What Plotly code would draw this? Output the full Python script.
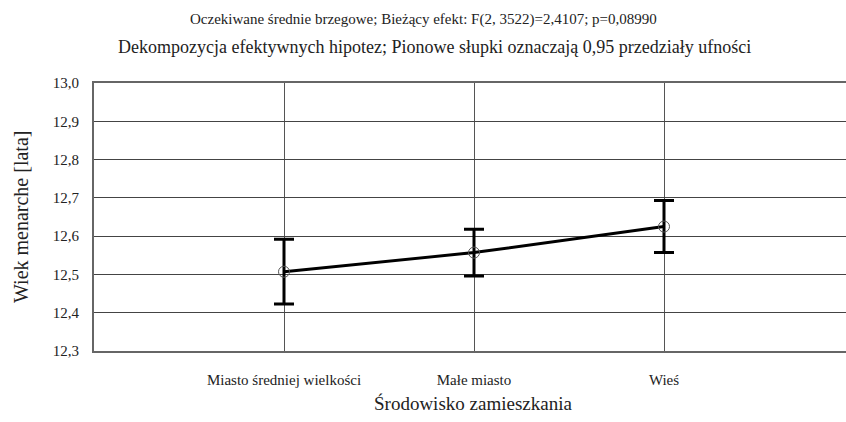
import plotly.graph_objects as go

categories = ["Miasto średniej wielkości", "Małe miasto", "Wieś"]
means = [12.507, 12.557, 12.625]
upper = [12.592, 12.618, 12.693]
lower = [12.423, 12.496, 12.557]
y_ticks = [12.3, 12.4, 12.5, 12.6, 12.7, 12.8, 12.9, 13.0]
y_tick_labels = ["12,3", "12,4", "12,5", "12,6", "12,7", "12,8", "12,9", "13,0"]

xpos = [1, 2, 3]
err_plus = [u - m for u, m in zip(upper, means)]
err_minus = [m - l for m, l in zip(means, lower)]

FONT = "Liberation Serif"
W, H = 846, 422
L, T = 94, 83
R = 0
PW = W - L - R
PH = 351 - 83
B = H - T - PH

def px_x(x):
    return (x - L) / PW

def px_y(y):
    return (T + PH - y) / PH

fig = go.Figure()
fig.add_trace(go.Scatter(
    x=xpos, y=means, mode="lines+markers",
    line=dict(color="black", width=3),
    marker=dict(symbol="circle-open", size=11, color="#555", line=dict(width=1)),
    error_y=dict(type="data", symmetric=False, array=err_plus, arrayminus=err_minus,
                 color="black", thickness=3, width=10),
    showlegend=False,
))

fig.update_layout(
    width=W, height=H,
    margin=dict(l=L, r=R, t=T, b=B, autoexpand=False),
    paper_bgcolor="white", plot_bgcolor="white",
    font=dict(family=FONT, color="#222"),
    xaxis=dict(
        range=[0, PW / 190], tickvals=xpos, ticktext=categories, automargin=False,
        showgrid=True, gridcolor="#555", gridwidth=1,
        zeroline=False, showline=True, linecolor="#666", linewidth=2, mirror=True,
        ticks="outside", ticklen=14, tickcolor="rgba(0,0,0,0)",
        tickfont=dict(size=15, family=FONT, color="#222"),
    ),
    yaxis=dict(
        range=[12.3, 13.0], tickvals=y_ticks, ticktext=y_tick_labels, automargin=False,
        showgrid=True, gridcolor="#444", gridwidth=1,
        zeroline=False, showline=True, linecolor="#666", linewidth=2, mirror=True,
        ticks="outside", ticklen=10, tickcolor="rgba(0,0,0,0)",
        tickfont=dict(size=15, family=FONT, color="#222"),
    ),
    annotations=[
        dict(text="Oczekiwane średnie brzegowe; Bieżący efekt: F(2, 3522)=2,4107; p=0,08990",
             x=px_x(423), y=px_y(19), xref="paper", yref="paper", showarrow=False,
             yanchor="middle", font=dict(size=15, family=FONT, color="#222")),
        dict(text="Dekompozycja efektywnych hipotez; Pionowe słupki oznaczają 0,95 przedziały ufności",
             x=px_x(434), y=px_y(47), xref="paper", yref="paper", showarrow=False,
             yanchor="middle", font=dict(size=18, family=FONT, color="#222")),
        dict(text="Środowisko zamieszkania",
             x=px_x(473), y=px_y(403), xref="paper", yref="paper", showarrow=False,
             yanchor="middle", font=dict(size=19, family=FONT, color="#222")),
        dict(text="Wiek menarche [lata]", textangle=-90,
             x=px_x(21), y=px_y(217), xref="paper", yref="paper", showarrow=False,
             xanchor="center", yanchor="middle", font=dict(size=20, family=FONT, color="#222")),
    ],
)

fig.write_html("out.html", config={"displayModeBar": False},
               post_script="document.body.style.margin='0';")
